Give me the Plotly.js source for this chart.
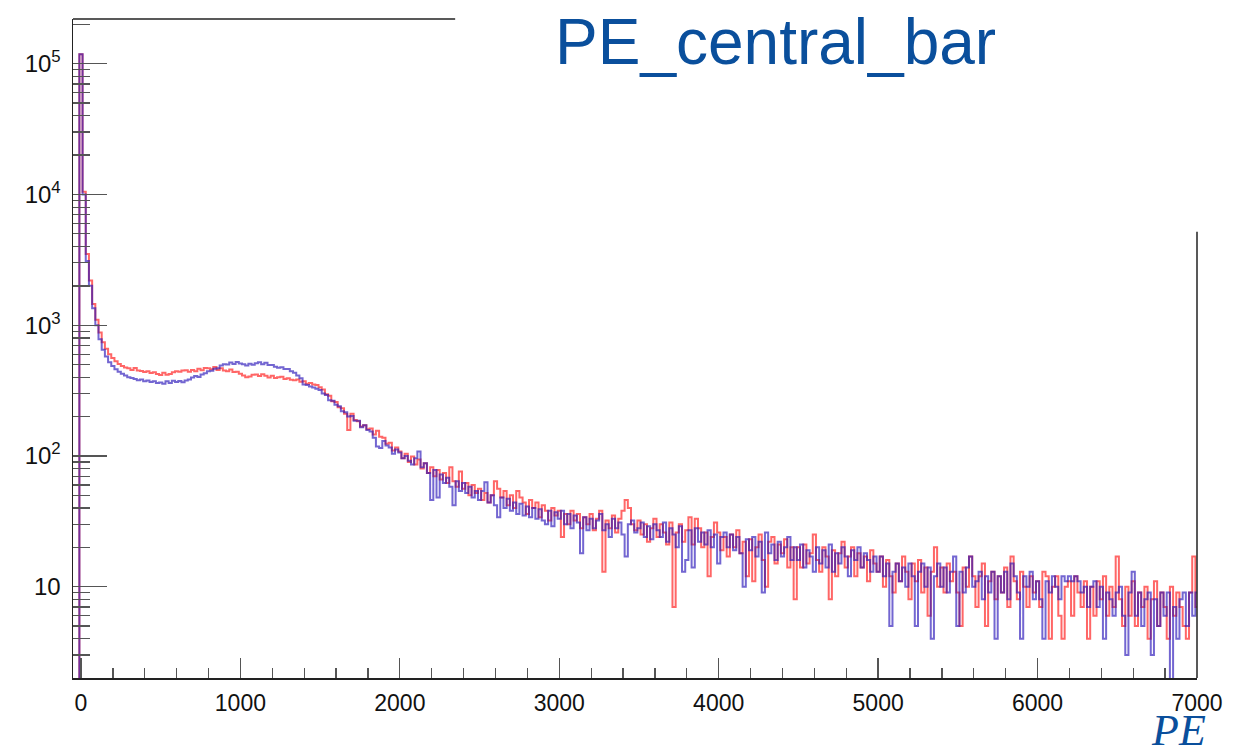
<!DOCTYPE html>
<html>
<head>
<meta charset="utf-8">
<script src="https://cdn.plot.ly/plotly-3.0.1.min.js"></script>
<style>html,body{margin:0;padding:0;background:#fff;}#chart{width:1253px;height:755px;}</style>
</head>
<body>
<div id="chart"></div>
<script>
// Histogram binning (PE), bin width 20, first bin centre -40
const binStart = -50;
const binWidth = 20;

// Red histogram counts per bin
const redCounts = [
  0, 0,
  118000,10500,3500,2200,1450,1100,880,740,660,600,560,530,505,488,474,468,455,470,450,446,438,444,430,436,424,
  415,432,418,424,436,445,440,450,452,440,455,445,465,452,470,468,460,478,455,468,450,445,458,438,440,
  425,412,400,405,418,420,408,422,410,398,410,395,400,404,388,392,382,380,385,370,372,356,362,352,348,
  335,322,296,288,262,258,236,232,210,158,210,188,184,168,172,160,162,146,156,140,138,124,126,110,116,
  108,96,104,90,99,86,94,80,88,74,82,70,78,66,74,62,82,64,58,76,56,62,50,60,52,
  56,46,52,44,50,64,56,48,54,42,50,40,54,48,44,36,46,40,44,34,42,38,32,40,35,
  38,24,36,30,38,32,36,28,34,30,36,27,33,38,13,32,28,35,26,33,38,46,40,30,27,
  32,25,30,22,28,33,24,30,26,21,31,7,26,30,22,27,34,21,33,28,20,26,12,24,31,
  26,19,24,17,25,20,27,18,22,12,23,11,20,25,16,10,22,24,15,21,18,23,14,20,8,
  20,14,21,15,18,25,16,13,20,17,8,19,12,18,22,14,17,20,12,18,14,17,11,19,15,
  13,17,10,16,12,9,15,11,17,13,8,15,11,16,9,14,6,13,20,10,14,9,15,11,13,
  9,5,14,10,17,12,7,12,15,5,11,13,8,12,9,14,7,17,11,8,13,10,7,12,9,
  11,7,13,12,4,10,12,6,4,10,11,6,12,9,7,11,4,10,6,11,8,12,6,10,7,
  17,8,5,10,6,11,5,9,7,10,4,8,11,5,9,7,4,10,6,9,7,5,4,9,17,
  7
];

// Blue histogram counts per bin
const blueCounts = [
  0, 0,
  118000,10000,3100,2000,1350,1000,780,650,575,520,488,460,440,425,412,400,395,388,380,384,372,378,368,372,362,
  365,356,372,362,376,368,375,366,378,384,398,408,402,420,428,445,448,465,468,492,502,500,518,505,522,
  510,502,492,508,498,512,520,502,515,495,495,482,472,476,462,462,445,432,412,392,352,348,340,334,326,
  320,300,292,266,264,246,240,220,216,200,202,186,186,166,172,158,154,138,118,115,130,120,116,104,112,
  106,96,100,92,86,96,108,82,88,74,46,78,48,72,62,68,58,42,64,54,62,52,58,48,54,
  46,54,63,44,50,42,34,48,40,47,38,44,36,43,35,41,34,40,33,39,32,30,38,29,37,
  33,38,30,36,28,35,31,18,34,27,33,28,32,36,27,30,24,33,28,31,25,17,30,32,26,
  28,31,24,29,23,30,27,24,31,22,28,25,20,29,13,16,27,14,28,22,26,21,27,20,25,
  15,24,26,20,25,19,24,18,10,23,19,24,17,22,9,26,18,21,16,22,17,20,24,16,20,
  16,21,14,19,17,13,20,15,19,14,21,13,18,15,20,17,12,19,16,20,14,18,16,13,17,
  13,17,12,15,5,13,15,11,14,10,15,12,5,13,15,10,14,4,12,15,10,14,9,13,17,
  5,13,9,14,17,10,11,13,8,12,9,13,4,12,9,13,8,15,12,9,4,12,10,13,8,
  11,8,4,11,9,12,10,8,12,11,12,11,12,11,9,10,7,10,11,7,10,4,9,8,6,
  9,10,6,3,9,13,6,9,5,8,9,3,8,5,9,6,9,1,7,4,8,9,5,9,6,
  9
];

// Axis tick labels
const yMajorVals = [10, 100, 1000, 10000, 100000];
const yMajorText = ['10', '10<sup>2</sup>', '10<sup>3</sup>', '10<sup>4</sup>', '10<sup>5</sup>'];
const yMinorMult = [2,3,4,5,6,7,8,9];
const yDecades = [1, 10, 100, 1000, 10000, 100000];
const titleText = 'PE_central_bar';
const xLabelText = 'PE';

function stepTrace(counts, color) {
  const xs = [], ys = [];
  counts.forEach((c, i) => { xs.push(binStart + i * binWidth); ys.push(c > 0 ? c : 0.01); });
  xs.push(binStart + counts.length * binWidth);
  ys.push(counts[counts.length - 1] > 0 ? counts[counts.length - 1] : 0.01);
  return {
    x: xs, y: ys, type: 'scatter', mode: 'lines',
    line: {shape: 'hv', color: color, width: 2},
    hoverinfo: 'skip', showlegend: false
  };
}

const yMinorVals = [];
yDecades.forEach(d => yMinorMult.forEach(m => { if (d * m < 2.3e5) yMinorVals.push(d * m); }));

const axisColor = '#222';
const tickColor = '#555';

const data = [
  stepTrace(redCounts, 'rgba(255,0,0,0.6)'),
  stepTrace(blueCounts, 'rgba(40,20,185,0.65)')
];

const layout = {
  width: 1253, height: 755,
  margin: {l: 73, r: 56, t: 19, b: 77, pad: 0},
  paper_bgcolor: '#fff', plot_bgcolor: '#fff',
  showlegend: false,
  xaxis: {
    range: [-50, 7000],
    showline: true, linecolor: axisColor, linewidth: 1.5,
    showgrid: false, zeroline: false,
    ticks: 'inside', ticklen: 20, tickwidth: 1.3, tickcolor: tickColor,
    tick0: 0, dtick: 1000,
    minor: {ticks: 'inside', ticklen: 10, tickwidth: 1.3, tickcolor: tickColor, tick0: 0, dtick: 200, showgrid: false},
    tickfont: {family: 'Liberation Sans, Arial, sans-serif', size: 23, color: '#111'},
    ticklabelstandoff: 4
  },
  yaxis: {
    type: 'log',
    range: [Math.log10(2), Math.log10(2.2e5)],
    showline: true, linecolor: axisColor, linewidth: 1.5,
    showgrid: false, zeroline: false,
    ticks: 'inside', ticklen: 34, tickwidth: 1.3, tickcolor: tickColor,
    tickmode: 'array', tickvals: yMajorVals, ticktext: yMajorText,
    minor: {ticks: 'inside', ticklen: 17, tickwidth: 1.3, tickcolor: tickColor, tickmode: 'array', tickvals: yMinorVals, showgrid: false},
    tickfont: {family: 'Liberation Sans, Arial, sans-serif', size: 24, color: '#111'},
    ticklabelstandoff: 6
  },
  shapes: [
    {type: 'line', xref: 'paper', yref: 'paper', x0: 0, x1: 0.34, y0: 1, y1: 1, line: {color: axisColor, width: 1.5}},
    {type: 'line', xref: 'paper', yref: 'paper', x0: 1, x1: 1, y0: 0, y1: 0.677, line: {color: axisColor, width: 1.5}}
  ],
  annotations: [
    {text: titleText, xref: 'paper', yref: 'paper', x: 0.6254, y: 0.965, xanchor: 'center', yanchor: 'middle',
     showarrow: false, font: {family: 'Liberation Sans, Arial, sans-serif', size: 64, color: '#0a4f9c'}},
    {text: '<i>' + xLabelText + '</i>', xref: 'paper', yref: 'paper', x: 1.0098, y: -0.08, xanchor: 'right', yanchor: 'middle',
     showarrow: false, font: {family: 'Liberation Serif, Times New Roman, serif', size: 44, color: '#0a4f9c'}}
  ]
};

Plotly.newPlot('chart', data, layout, {staticPlot: true, displayModeBar: false});
</script>
</body>
</html>
